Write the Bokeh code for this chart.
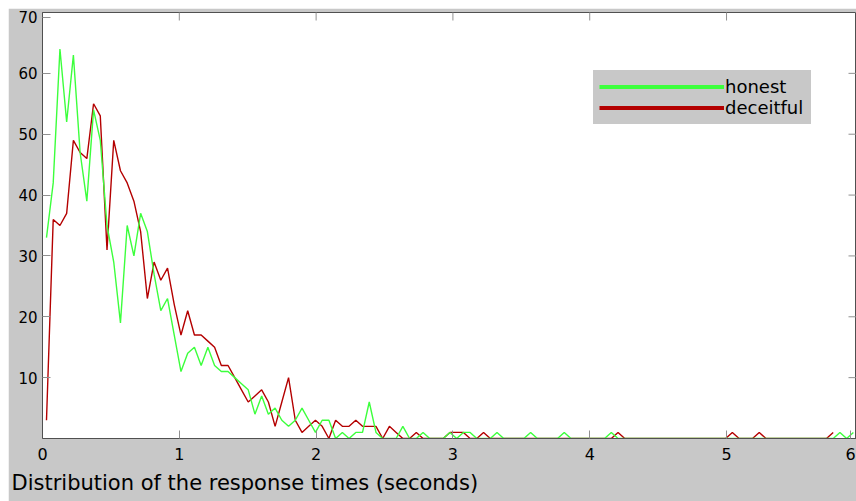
from bokeh.plotting import figure
from bokeh.models import (Range1d, LinearAxis, FixedTicker, Legend, LegendItem,
                          Title, ColumnDataSource)
from bokeh.embed import file_html
from bokeh.resources import INLINE

# ---- data (histogram of response times, counts per bin) ----
BIN_START = 0.0292      # centre of the first bin (seconds)
BIN_WIDTH = 0.04915     # bin width (seconds)

honest = [33, 42, 64, 52, 63, 47, 39, 54, 49, 35,
          29, 19, 35, 30, 37, 34, 27, 21, 23, 17,
          11, 14, 15, 12, 15, 12, 11, 11, 10, 9,
          8, 4, 7, 4, 5, 3, 2, 3, 5, 3,
          1, 3, 3, 0, 1, 0, 1, 1, 6, 1,
          0, 0, 0, 2, 0, 0, 1, 0, 0, 0,
          1, 0, 1, 1, 0, 0, 0, 1, 0, 0,
          0, 0, 1, 0, 0, 0, 0, 1, 0, 0,
          0, 0, 0, 0, 1, 0, 0, 0, 0, 0,
          0, 0, 0, 0, 0, 0, 0, 0, 0, 0,
          0, 0, 0, 0, 0, 0, 0, 0, 0, 0,
          0, 0, 0, 0, 0, 0, 0, 0, 1, 0,
          1]

deceitful = [3, 36, 35, 37, 49, 47, 46, 55, 53, 31,
             49, 44, 42, 39, 34, 23, 29, 26, 28, 22,
             17, 21, 17, 17, 16, 15, 12, 12, 10, 8,
             6, 7, 8, 6, 2, 6, 10, 3, 1, 2,
             3, 2, 0, 3, 2, 2, 3, 2, 2, 2,
             0, 2, 1, 0, 0, 1, 0, 0, 0, 0,
             1, 1, 1, 0, 0, 1, 0, 0, 0, 0,
             0, 0, 0, 0, 0, 0, 0, 0, 0, 0,
             0, 0, 0, 0, 0, 1, 0, 0, 0, 0,
             0, 0, 0, 0, 0, 0, 0, 0, 0, 0,
             0, 0, 1, 0, 0, 0, 1, 0, 0, 0,
             0, 0, 0, 0, 0, 0, 0, 1]

series_labels = ["honest", "deceitful"]
x_ticks = [0, 1, 2, 3, 4, 5, 6]
y_ticks = [10, 20, 30, 40, 50, 60, 70]
title_text = "Distribution of the response times (seconds)"

X_MAX = 5.95
Y_MAX = 70

t_hon = [BIN_START + BIN_WIDTH * i for i in range(len(honest))]
t_dec = [BIN_START + BIN_WIDTH * i for i in range(len(deceitful))]

GREEN = "#3cff3c"
RED = "#b40000"
BG = "#c8c8c8"
AXIS = "#505050"
TICK = "#909090"
FONT = "DejaVu Sans"

p = figure(width=848, height=493, output_backend="svg", toolbar_location=None,
           x_range=Range1d(0, X_MAX), y_range=Range1d(0, Y_MAX),
           x_axis_location=None, y_axis_location=None,
           min_border_left=34, min_border_right=0, min_border_top=4,
           min_border_bottom=63)
p.margin = (8, 0, 0, 8)
p.background_fill_color = "white"
p.border_fill_color = BG
p.outline_line_color = AXIS
p.xgrid.visible = False
p.ygrid.visible = False

# the last labels ("6" and "70") are nudged inside the frame, as in the reference
X_LAST = 5.906
Y_LAST = 69.2
bottom_ticks = x_ticks[:-1] + [X_LAST]
left_ticks = y_ticks[:-1] + [Y_LAST]

bottom = LinearAxis(ticker=FixedTicker(ticks=bottom_ticks),
                    major_label_overrides={X_LAST: str(x_ticks[-1])},
                    major_tick_in=8, major_tick_out=0,
                    minor_tick_in=0, minor_tick_out=0,
                    major_label_standoff=9,
                    major_label_text_font=FONT,
                    major_label_text_font_size="16px",
                    major_label_text_color="black",
                    axis_line_color=AXIS, major_tick_line_color=TICK)
p.add_layout(bottom, "below")

left = LinearAxis(ticker=FixedTicker(ticks=left_ticks),
                  major_label_overrides={Y_LAST: str(y_ticks[-1])},
                  major_tick_in=8, major_tick_out=0,
                  minor_tick_in=0, minor_tick_out=0,
                  major_label_standoff=5,
                  major_label_text_font=FONT,
                  major_label_text_font_size="15px",
                  major_label_text_color="black",
                  axis_line_color=AXIS, major_tick_line_color=TICK)
p.add_layout(left, "left")

# inward ticks on the top and right frame edges (half of each dash is clipped)
p.scatter(x=x_ticks[1:-1], y=[Y_MAX] * len(x_ticks[1:-1]), marker="dash",
          size=16, angle=90, angle_units="deg", line_color=TICK, line_width=1)
p.scatter(x=[X_MAX] * len(y_ticks[:-1]), y=y_ticks[:-1], marker="dash",
          size=16, line_color=TICK, line_width=1)

src_dec = ColumnDataSource(dict(t=t_dec, n=deceitful))
src_hon = ColumnDataSource(dict(t=t_hon, n=honest))
p.line("t", "n", source=src_dec, line_color=RED, line_width=1.4)
p.line("t", "n", source=src_hon, line_color=GREEN, line_width=1.4)

nan = float("nan")
leg_h = p.line([nan], [nan], line_color=GREEN, line_width=4)
leg_d = p.line([nan], [nan], line_color=RED, line_width=4)
legend = Legend(items=[LegendItem(label=series_labels[0], renderers=[leg_h]),
                       LegendItem(label=series_labels[1], renderers=[leg_d])],
                location=(551, 314), margin=0, padding=0, spacing=0,
                glyph_width=125, glyph_height=21, label_height=21,
                label_width=80, label_standoff=1,
                label_text_font=FONT, label_text_font_size="18px",
                label_text_color="black",
                background_fill_color=BG, background_fill_alpha=1.0,
                border_line_color=BG, border_line_width=6)
p.add_layout(legend)

title = Title(text=title_text, align="left", offset=-31, standoff=13,
              text_font=FONT, text_font_size="21px", text_font_style="normal",
              text_color="black")
p.add_layout(title, "below")

open("out.html", "w").write(file_html(p, INLINE))
